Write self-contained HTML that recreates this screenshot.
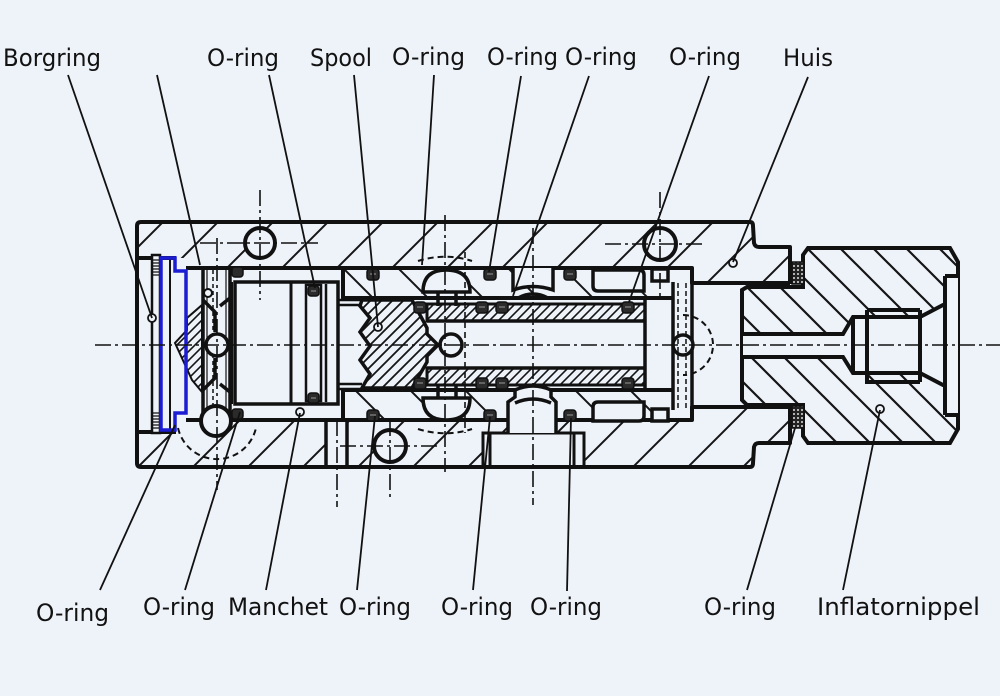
<!DOCTYPE html>
<html><head><meta charset="utf-8">
<style>
html,body{margin:0;padding:0;background:#eef2f9;}
svg{display:block}
text{font-family:"DejaVu Sans","Liberation Sans",sans-serif;font-size:24px;fill:#121212}
</style></head><body>
<svg width="1000" height="696" viewBox="0 0 1000 696" xmlns="http://www.w3.org/2000/svg">
<defs>
<pattern id="h1" patternUnits="userSpaceOnUse" width="55" height="55">
 <path d="M0,55 L55,0 M-10,10 L10,-10 M45,65 L65,45" stroke="#151515" stroke-width="2"/>
</pattern>
<pattern id="h4" patternUnits="userSpaceOnUse" width="55" height="55" x="20">
 <path d="M0,0 L55,55 M-10,45 L10,65 M45,-10 L65,10" stroke="#151515" stroke-width="2"/>
</pattern>
<pattern id="h2" patternUnits="userSpaceOnUse" width="33" height="33" x="31">
 <path d="M0,0 L33,33 M-5,28 L5,38 M28,-5 L38,5" stroke="#151515" stroke-width="2.2"/>
</pattern>
<pattern id="h3" patternUnits="userSpaceOnUse" width="9" height="9">
 <path d="M0,9 L9,0 M-2,2 L2,-2 M7,11 L11,7" stroke="#151515" stroke-width="1.6"/>
</pattern>
<pattern id="h5" patternUnits="userSpaceOnUse" width="11" height="11">
 <path d="M0,11 L11,0 M-2,2 L2,-2 M9,13 L13,9" stroke="#151515" stroke-width="1.8"/>
</pattern>
<pattern id="dots" patternUnits="userSpaceOnUse" width="4" height="4">
 <rect width="4" height="4" fill="#222"/><circle cx="2" cy="2" r="1" fill="#ddd"/>
</pattern>
</defs>
<rect width="1000" height="696" fill="#eef2f9"/>

<!-- body walls hatched -->
<path d="M137,222 L750,222 L755,247 L790,247 L790,283 L692,283 L692,268 L186,268 L186,258 L137,258 Z" fill="url(#h1)"/>
<path d="M137,467 L750,467 L755,443 L790,443 L790,407 L692,407 L692,420 L186,420 L186,432 L137,432 Z" fill="url(#h1)"/>

<!-- housing sleeve bands -->
<rect x="343" y="268" width="330" height="30" fill="url(#h4)"/>
<rect x="343" y="390" width="330" height="30" fill="url(#h4)"/>

<!-- holes / cutouts in walls -->
<g fill="#eef2f9" stroke="#111" stroke-width="4">
 <circle cx="260" cy="243" r="15"/>
 <circle cx="660" cy="244" r="16"/>
 <circle cx="390" cy="446" r="16"/>
</g>
<rect x="483" y="433" width="101" height="34" fill="#eef2f9"/>
<path d="M483,467 L483,433 L584,433 L584,467 M490,433 L490,467 M574,433 L574,467" fill="none" stroke="#111" stroke-width="3"/>
<rect x="326" y="420" width="21" height="47" fill="#eef2f9"/>
<path d="M326,420 L326,467 M347,420 L347,467" stroke="#111" stroke-width="3.5"/>

<!-- outer outline -->
<g fill="none" stroke="#111" stroke-width="4" stroke-linejoin="round">
 <path d="M137,226 Q137,222 141,222 L750,222 Q753,222 753,226 L754,243 Q755,247 759,247 L790,247 L790,284"/>
 <path d="M137,463 Q137,467 141,467 L750,467 Q753,467 753,463 L754,447 Q755,443 759,443 L790,443 L790,406"/>
 <path d="M137,226 L137,463"/>
 <path d="M137,258 L176,258 M137,432 L176,432"/>
 <path d="M186,268 L692,268 L692,283 L790,283"/>
 <path d="M186,420 L692,420 L692,407 L790,407"/>
 <path d="M343,268 L343,298 L673,298 M343,420 L343,390 L673,390"/>
</g>

<!-- housing grooves -->
<g fill="#eef2f9" stroke="#111" stroke-width="3.5">
 <path d="M423,292 Q423,270 446,270 Q470,270 470,292 Z"/>
 <path d="M423,398 Q423,420 446,420 Q470,420 470,398 Z"/>
 <path d="M513,268 L513,290 Q533,283 553,290 L553,268"/>
 <path d="M508,433 L508,402 L515,397 L515,390 Q533,382 551,390 L551,397 L556,402 L556,433"/>
 <path d="M593,270 L639,270 Q644,270 644,275 L644,291 L598,291 Q593,291 593,286 Z"/>
 <path d="M593,421 L639,421 Q644,421 644,416 L644,402 L598,402 Q593,402 593,407 Z"/>
 <rect x="652" y="269" width="16" height="12"/>
 <rect x="652" y="409" width="16" height="12"/>
 <path d="M438,292 L438,306 M456,292 L456,306 M438,398 L438,384 M456,398 L456,384" fill="none"/>
 <path d="M518,298 Q533,290 548,298 M515,403 Q533,395 551,403" fill="none"/>
</g>

<!-- spool -->
<path d="M362,300 L412,300 L427,328 L427,334 L438,345 L427,356 L427,362 L412,388 L362,388 L370,374 L360,360 L370,346 L360,332 L370,318 L360,306 Z" fill="url(#h5)" stroke="#111" stroke-width="3.5"/>
<rect x="427" y="304" width="218" height="17" fill="url(#h3)" stroke="#111" stroke-width="3"/>
<rect x="427" y="368" width="218" height="17" fill="url(#h3)" stroke="#111" stroke-width="3"/>
<path d="M427,321 L645,321 M427,368 L645,368" stroke="#111" stroke-width="3.5"/>
<circle cx="451" cy="345" r="11" fill="#eef2f9" stroke="#111" stroke-width="3.5"/>
<path d="M645,298 L645,390 M673,282 L673,410 M692,282 L692,410" stroke="#111" stroke-width="3.5"/>
<path d="M338,300 L362,300 M338,305 L362,305 M338,384 L362,384 M338,389 L362,389" stroke="#111" stroke-width="2.5"/>
<circle cx="683" cy="345" r="10" fill="#eef2f9" stroke="#111" stroke-width="3.5"/>
<path d="M683,315 A30,30 0 0 1 683,375" fill="none" stroke="#111" stroke-width="2" stroke-dasharray="6 4"/>
<path d="M678,283 L678,408 M686,283 L686,408" stroke="#111" stroke-width="1.5" stroke-dasharray="5 3"/>

<!-- nipple -->
<path d="M808,248 L950,248 L958,262 L958,429 L950,443 L808,443 L803,436 L803,405 L747,405 L742,400 L742,290 L747,287 L803,287 L803,255 Z" fill="url(#h2)" stroke="#111" stroke-width="4"/>
<path d="M742,334 L843,334 L853,317 L920,317 L943,305 L945,305 L945,276 L958,276 L958,415 L945,415 L945,385 L943,385 L920,373 L853,373 L843,357 L742,357 Z" fill="#eef2f9"/>
<g fill="none" stroke="#111" stroke-width="4">
 <path d="M742,334 L843,334 L853,317 L920,317 L943,305 L945,305"/>
 <path d="M742,357 L843,357 L853,373 L920,373 L943,385 L945,385"/>
 <path d="M945,276 L945,415 M945,276 L958,276 M945,415 L958,415"/>
 <path d="M853,317 L853,373 M867,310 L867,382 L920,382 M867,310 L920,310 M920,310 L920,382"/>
 <path d="M742,334 L742,357" stroke-width="2"/>
</g>
<rect x="792" y="262" width="12" height="22" fill="url(#dots)" stroke="#111" stroke-width="1.5"/>
<rect x="792" y="406" width="12" height="22" fill="url(#dots)" stroke="#111" stroke-width="1.5"/>

<!-- left end: retaining ring, borgring, diaphragm -->
<rect x="152" y="255" width="8" height="178" fill="#eef2f9" stroke="#111" stroke-width="2.5"/>
<path d="M153,260 H159 M153,263 H159 M153,266 H159 M153,269 H159 M153,272 H159 M153,275 H159 M153,413 H159 M153,416 H159 M153,419 H159 M153,422 H159 M153,425 H159 M153,428 H159" stroke="#111" stroke-width="1.2"/>
<path d="M187,318 L202,305 L202,392 L192,380 L175,343 L187,330 Z" fill="url(#h3)" stroke="#111" stroke-width="2"/>
<path d="M170,258 L170,430" stroke="#111" stroke-width="2"/>
<polygon points="161,258 175,258 175,271 186,271 186,413 175,413 175,430 161,430" fill="none" stroke="#1c1cd2" stroke-width="3.5"/>

<!-- column -->
<g fill="none" stroke="#111" stroke-width="3.5">
 <path d="M203,268 L203,420 M230,268 L230,420"/>
 <path d="M203,300 L215,312 L215,332 M230,298 L220,306 M203,390 L215,378 L215,358 M230,392 L220,384"/>
</g>
<path d="M207,268 L207,420 M226,268 L226,420" stroke="#111" stroke-width="1.2"/>
<path d="M213,270 L213,420" stroke="#111" stroke-width="1.5" stroke-dasharray="4 3"/>
<circle cx="217" cy="345" r="11" fill="#eef2f9" stroke="#111" stroke-width="3.5"/>
<circle cx="216" cy="421" r="15" fill="#eef2f9" stroke="#111" stroke-width="4"/>
<circle cx="208" cy="293" r="4" fill="#eef2f9" stroke="#111" stroke-width="2"/>
<path d="M178,428 A40,40 0 0 0 256,428" fill="none" stroke="#111" stroke-width="2" stroke-dasharray="6 4"/>
<path d="M418,261 A88,88 0 0 1 472,261 M418,429 A88,88 0 0 0 472,429" fill="none" stroke="#111" stroke-width="2" stroke-dasharray="6 4"/>

<!-- piston / manchet -->
<rect x="235" y="282" width="103" height="122" fill="#eef2f9" stroke="#111" stroke-width="3.5"/>
<path d="M291,282 L291,404" stroke="#111" stroke-width="3"/>
<rect x="306" y="285" width="15" height="116" fill="none" stroke="#111" stroke-width="2.5"/>
<path d="M326,284 L326,402" stroke="#111" stroke-width="2.5"/>
<path d="M232,282 L232,404" stroke="#111" stroke-width="2"/>

<!-- o-rings -->
<g fill="#2b2b2b" stroke="#111" stroke-width="1.5">
 <rect x="367" y="269" width="12" height="11" rx="3"/>
 <rect x="484" y="269" width="12" height="11" rx="3"/>
 <rect x="564" y="269" width="12" height="11" rx="3"/>
 <rect x="232" y="267" width="11" height="10" rx="3"/>
 <rect x="414" y="302" width="12" height="11" rx="3"/>
 <rect x="476" y="302" width="12" height="11" rx="3"/>
 <rect x="496" y="302" width="12" height="11" rx="3"/>
 <rect x="622" y="302" width="12" height="11" rx="3"/>
 <rect x="414" y="378" width="12" height="11" rx="3"/>
 <rect x="476" y="378" width="12" height="11" rx="3"/>
 <rect x="496" y="378" width="12" height="11" rx="3"/>
 <rect x="622" y="378" width="12" height="11" rx="3"/>
 <rect x="367" y="410" width="12" height="11" rx="3"/>
 <rect x="484" y="410" width="12" height="11" rx="3"/>
 <rect x="564" y="410" width="12" height="11" rx="3"/>
 <rect x="232" y="409" width="11" height="10" rx="3"/>
 <rect x="308" y="286" width="11" height="10" rx="3"/>
 <rect x="308" y="393" width="11" height="10" rx="3"/>
</g>
<g stroke="#999" stroke-width="1">
 <path d="M370,274 H376 M487,274 H493 M567,274 H573 M417,307 H423 M479,307 H485 M499,307 H505 M625,307 H631 M417,383 H423 M479,383 H485 M499,383 H505 M625,383 H631 M370,415 H376 M487,415 H493 M567,415 H573 M311,291 H316 M311,398 H316"/>
</g>

<!-- small marker circles -->
<g fill="#eef2f9" stroke="#111" stroke-width="1.8">
 <circle cx="152" cy="318" r="4"/>
 <circle cx="378" cy="327" r="4"/>
 <circle cx="300" cy="412" r="4"/>
 <circle cx="733" cy="263" r="4"/>
 <circle cx="880" cy="409" r="4"/>
</g>

<!-- centre / dash-dot lines -->
<g stroke="#111" stroke-width="1.6" stroke-dasharray="16 4 3 4" fill="none">
 <path d="M95,345 L1000,345"/>
 <path d="M260,190 L260,300 M200,243 L318,243"/>
 <path d="M217,238 L217,490"/>
 <path d="M445,215 L445,472"/>
 <path d="M533,228 L533,505"/>
 <path d="M660,192 L660,300 M605,244 L705,244"/>
 <path d="M390,420 L390,500 M340,446 L440,446"/>
 <path d="M337,420 L337,507"/>
</g>
<path d="M465,252 L465,433" stroke="#111" stroke-width="1.6" stroke-dasharray="6 4"/>

<!-- leader lines -->
<g stroke="#111" stroke-width="1.8" fill="none">
 <path d="M68,75 L152,318"/>
 <path d="M157,75 L200,265"/>
 <path d="M269,75 L315,288"/>
 <path d="M354,75 L378,327"/>
 <path d="M434,75 L422,265"/>
 <path d="M521,76 L489,272"/>
 <path d="M589,76 L513,296"/>
 <path d="M709,76 L629,302"/>
 <path d="M808,77 L733,262"/>
 <path d="M100,590 L175,425"/>
 <path d="M185,590 L240,412"/>
 <path d="M266,590 L300,413"/>
 <path d="M357,590 L375,416"/>
 <path d="M473,590 L490,417"/>
 <path d="M567,591 L571,418"/>
 <path d="M747,590 L795,428"/>
 <path d="M843,590 L880,410"/>
</g>

<!-- labels -->
<text x="3" y="66" textLength="98" lengthAdjust="spacingAndGlyphs">Borgring</text>
<text x="207" y="66" textLength="72" lengthAdjust="spacingAndGlyphs">O-ring</text>
<text x="310" y="66" textLength="62" lengthAdjust="spacingAndGlyphs">Spool</text>
<text x="392" y="65" textLength="73" lengthAdjust="spacingAndGlyphs">O-ring</text>
<text x="487" y="65" textLength="71" lengthAdjust="spacingAndGlyphs">O-ring</text>
<text x="565" y="65" textLength="72" lengthAdjust="spacingAndGlyphs">O-ring</text>
<text x="669" y="65" textLength="72" lengthAdjust="spacingAndGlyphs">O-ring</text>
<text x="783" y="66" textLength="50" lengthAdjust="spacingAndGlyphs">Huis</text>

<text x="36" y="621" textLength="73" lengthAdjust="spacingAndGlyphs">O-ring</text>
<text x="143" y="615" textLength="72" lengthAdjust="spacingAndGlyphs">O-ring</text>
<text x="228" y="615" textLength="100" lengthAdjust="spacingAndGlyphs">Manchet</text>
<text x="339" y="615" textLength="72" lengthAdjust="spacingAndGlyphs">O-ring</text>
<text x="441" y="615" textLength="72" lengthAdjust="spacingAndGlyphs">O-ring</text>
<text x="530" y="615" textLength="72" lengthAdjust="spacingAndGlyphs">O-ring</text>
<text x="704" y="615" textLength="72" lengthAdjust="spacingAndGlyphs">O-ring</text>
<text x="817" y="615" textLength="163" lengthAdjust="spacingAndGlyphs">Inflatornippel</text>
</svg>
</body></html>
